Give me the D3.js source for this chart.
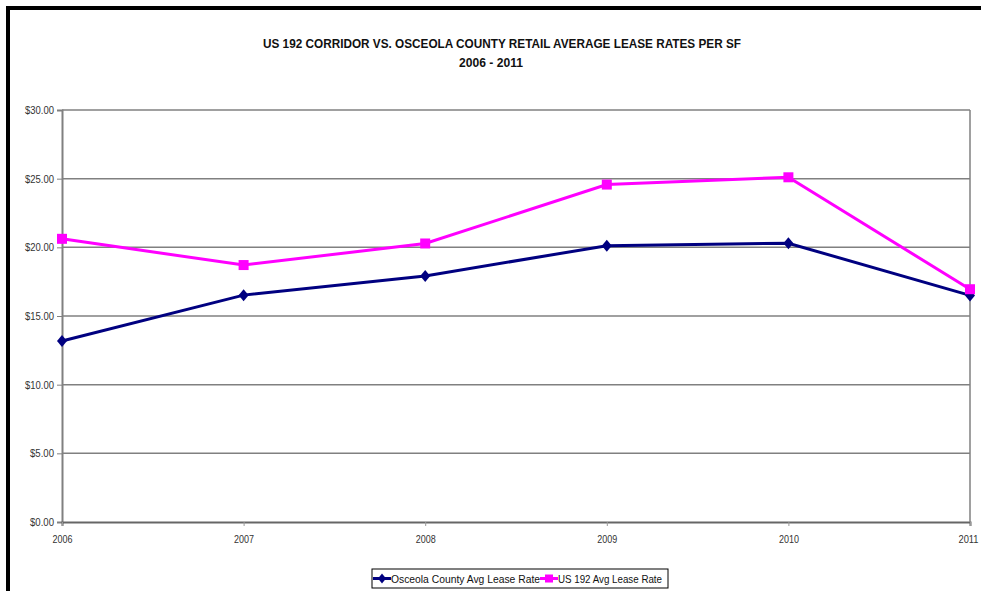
<!DOCTYPE html>
<html><head><meta charset="utf-8">
<script src="https://d3js.org/d3.v7.min.js"></script>
<style>
html,body{margin:0;padding:0;background:#fff;}
svg{display:block;}
text{font-family:"Liberation Sans Narrow","Arial Narrow","Liberation Sans",Arial,sans-serif;}
</style></head>
<body>
<svg id="chart" width="981" height="591"></svg>
<script>
const years = ["2006","2007","2008","2009","2010","2011"];
const osceola = [13.18, 16.52, 17.92, 20.12, 20.30, 16.50];
const us192 = [20.62, 18.71, 20.28, 24.57, 25.10, 16.95];
const yTicks = [0, 5, 10, 15, 20, 25, 30];
const seriesNames = ["Osceola County Avg Lease Rate", "US 192 Avg Lease Rate"];
const titleLines = ["US 192 CORRIDOR VS. OSCEOLA COUNTY RETAIL AVERAGE LEASE RATES PER SF", "2006 - 2011"];

const svg = d3.select("#chart");
// frame
svg.append("line").attr("x1",6).attr("x2",981).attr("y1",8).attr("y2",8).attr("stroke","#000").attr("stroke-width",4);
svg.append("line").attr("x1",8).attr("x2",8).attr("y1",6).attr("y2",591).attr("stroke","#000").attr("stroke-width",4);

const x = d3.scalePoint().domain(years).range([62, 970]);
const y = d3.scaleLinear().domain([0, 30]).range([522, 110]);

// title
const titleW = [478, 64];
svg.selectAll("text.title").data(titleLines).join("text")
  .attr("class","title").attr("x",(d,i)=>i===0?502:491).attr("y",(d,i)=>48+i*19)
  .attr("text-anchor","middle").attr("font-size",13).attr("font-weight","bold").attr("fill","#111")
  .attr("textLength",(d,i)=>titleW[i]).attr("lengthAdjust","spacingAndGlyphs")
  .text(d=>d);

// gridlines
svg.append("g").selectAll("line").data(yTicks.filter(d=>d>0)).join("line")
  .attr("x1",62).attr("x2",970).attr("y1",d=>y(d)).attr("y2",d=>y(d))
  .attr("stroke","#808080").attr("stroke-width",1.5);

// y axis
const yAxis = svg.append("g").attr("transform","translate(62,0)")
  .call(d3.axisLeft(y).tickValues(yTicks).tickSize(5).tickPadding(3).tickFormat(d=>"$"+d3.format(".2f")(d)));
yAxis.select(".domain").attr("stroke","#808080").attr("stroke-width",2);
yAxis.selectAll(".tick line").attr("stroke","#808080");
yAxis.selectAll(".tick text").attr("font-size",11).attr("fill","#333")
  .attr("font-family",'"Liberation Sans Narrow","Arial Narrow",Arial,sans-serif')
  .attr("textLength",d=>d>=10?29:24).attr("lengthAdjust","spacingAndGlyphs");

// x axis
const xAxis = svg.append("g").attr("transform","translate(0,522)")
  .call(d3.axisBottom(x).tickSize(4).tickPadding(9));
xAxis.select(".domain").attr("stroke","#666").attr("stroke-width",2);
xAxis.selectAll(".tick line").attr("stroke","#999");
xAxis.selectAll(".tick text").attr("font-size",11).attr("fill","#333")
  .attr("font-family",'"Liberation Sans Narrow","Arial Narrow",Arial,sans-serif')
  .attr("textLength",20).attr("lengthAdjust","spacingAndGlyphs")
  .attr("dx",d=>d==="2011"?-2:0);

// right vertical axis line
svg.append("line").attr("x1",970).attr("x2",970).attr("y1",110).attr("y2",522).attr("stroke","#808080").attr("stroke-width",1.5);

const line = d3.line().x((d,i)=>x(years[i])).y(d=>y(d));
const colors = ["#000080","#FF00FF"];
const data = [osceola, us192];

data.forEach((s,k)=>{
  svg.append("path").attr("d",line(s)).attr("fill","none").attr("stroke",colors[k]).attr("stroke-width",3);
});
// markers
svg.append("g").selectAll("path").data(osceola).join("path")
  .attr("transform",(d,i)=>`translate(${x(years[i])},${y(d)})`)
  .attr("d","M0,-6L5,0L0,6L-5,0Z").attr("fill","#000080");
svg.append("g").selectAll("rect").data(us192).join("rect")
  .attr("x",(d,i)=>x(years[i])-5).attr("y",d=>y(d)-5).attr("width",10).attr("height",10).attr("fill","#FF00FF");

// legend
const lg = svg.append("g");
lg.append("rect").attr("x",372).attr("y",569).attr("width",296).attr("height",19).attr("fill","#fff").attr("stroke","#000").attr("stroke-width",1);
const items = [{x:373, tw:149}, {x:540, tw:104}];
items.forEach((it,k)=>{
  lg.append("line").attr("x1",it.x).attr("x2",it.x+18).attr("y1",578.5).attr("y2",578.5).attr("stroke",colors[k]).attr("stroke-width",3);
  if(k===0){
    lg.append("path").attr("transform",`translate(${it.x+9},578.5)`).attr("d","M0,-5L4,0L0,5L-4,0Z").attr("fill",colors[k]);
  } else {
    lg.append("rect").attr("x",it.x+5).attr("y",574.5).attr("width",8).attr("height",8).attr("fill",colors[k]);
  }
  lg.append("text").attr("x",it.x+18).attr("y",582.5).attr("font-size",11).attr("fill","#111")
    .attr("textLength",it.tw).attr("lengthAdjust","spacingAndGlyphs").text(seriesNames[k]);
});
</script>
</body></html>
